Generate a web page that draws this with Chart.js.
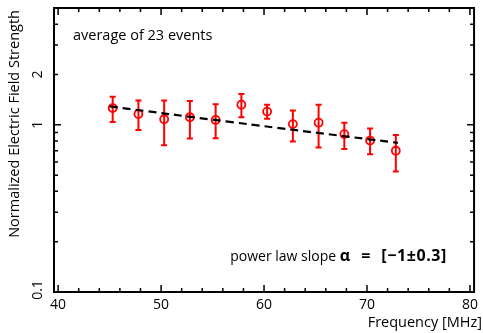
<!DOCTYPE html>
<html>
<head>
<meta charset="utf-8">
<script src="https://cdn.jsdelivr.net/npm/chart.js@4.4.1/dist/chart.umd.min.js"></script>
<style>
  html, body { margin: 0; padding: 0; background: #fff; }
  #wrap { width: 483px; height: 333px; }
</style>
</head>
<body>
<div id="wrap"><canvas id="chart"></canvas></div>
<script>
// --- Data ---
const freqMHz = [45.3, 47.8, 50.3, 52.8, 55.3, 57.8, 60.3, 62.8, 65.3, 67.8, 70.3, 72.8];
const fieldStrength = [1.26, 1.16, 1.08, 1.11, 1.07, 1.32, 1.20, 1.01, 1.03, 0.88, 0.805, 0.70];
const errUpper = [1.47, 1.40, 1.40, 1.39, 1.33, 1.53, 1.32, 1.22, 1.32, 1.03, 0.95, 0.87];
const errLower = [1.04, 0.93, 0.756, 0.828, 0.832, 1.11, 1.086, 0.795, 0.731, 0.718, 0.667, 0.525];

// power law fit (dashed line)
const fitFreq = [45.0, 56.5, 73.0];
const fitValue = [1.29, 1.045, 0.78];

// axis ticks
const xTickLabels = [40, 50, 60, 70, 80];
const xMinorTicks = [42, 44, 46, 48, 52, 54, 56, 58, 62, 64, 66, 68, 72, 74, 76, 78];
const yTickLabels = [0.1, 1, 2];
const yMajorTicks = [0.1, 1];
const yMinorTicks = [0.2, 0.3, 0.4, 0.5, 0.6, 0.7, 0.8, 0.9, 2, 3, 4];

const FONT = '"Open Sans", "DejaVu Sans", sans-serif';
const RED = '#ff0000';

// error bars under the markers
const errorBarPlugin = {
    id: 'errorBars',
    beforeDatasetsDraw(chart) {
        const { ctx, scales: { x, y } } = chart;
        ctx.save();
        ctx.strokeStyle = RED;
        ctx.lineWidth = 2;
        freqMHz.forEach((f, i) => {
            const px = x.getPixelForValue(f);
            const top = y.getPixelForValue(errUpper[i]);
            const bot = y.getPixelForValue(errLower[i]);
            ctx.beginPath();
            ctx.moveTo(px, top); ctx.lineTo(px, bot);
            ctx.moveTo(px - 3, top); ctx.lineTo(px + 3, top);
            ctx.moveTo(px - 3, bot); ctx.lineTo(px + 3, bot);
            ctx.stroke();
        });
        ctx.restore();
    }
};

// frame, inward ticks, rotated y labels, titles, text notes
const framePlugin = {
    id: 'frame',
    afterDraw(chart) {
        const { ctx, chartArea: a, scales: { x, y } } = chart;
        ctx.save();
        ctx.strokeStyle = '#000';
        ctx.lineWidth = 2;
        ctx.strokeRect(a.left, a.top, a.right - a.left, a.bottom - a.top);

        ctx.lineWidth = 1.5;
        ctx.beginPath();
        const xt = (v, len) => {
            const px = x.getPixelForValue(v);
            ctx.moveTo(px, a.bottom); ctx.lineTo(px, a.bottom - len);
            ctx.moveTo(px, a.top); ctx.lineTo(px, a.top + len);
        };
        const yt = (v, len) => {
            const py = y.getPixelForValue(v);
            ctx.moveTo(a.left, py); ctx.lineTo(a.left + len, py);
            ctx.moveTo(a.right, py); ctx.lineTo(a.right - len, py);
        };
        xTickLabels.forEach(v => xt(v, 7));
        xMinorTicks.forEach(v => xt(v, 4));
        yMajorTicks.forEach(v => yt(v, 7));
        yMinorTicks.forEach(v => yt(v, 4));
        ctx.stroke();

        ctx.fillStyle = '#000';

        // y tick labels, rotated
        ctx.font = '14px ' + FONT;
        ctx.textAlign = 'center';
        ctx.textBaseline = 'middle';
        yTickLabels.forEach(v => {
            const py = y.getPixelForValue(v);
            ctx.save();
            ctx.translate(38, v === 0.1 ? py - 2 : py);
            ctx.rotate(-Math.PI / 2);
            ctx.fillText(String(v), 0, 0);
            ctx.restore();
        });

        // axis titles
        ctx.font = '14.5px ' + FONT;
        ctx.textAlign = 'right';
        ctx.fillText('Frequency [MHz]', 482, 323);
        ctx.save();
        ctx.translate(15, 10);
        ctx.rotate(-Math.PI / 2);
        ctx.fillText('Normalized Electric Field Strength', 0, 0);
        ctx.restore();

        // notes
        ctx.textAlign = 'left';
        ctx.textBaseline = 'alphabetic';
        ctx.font = '14.5px ' + FONT;
        ctx.fillText('average of 23 events', 73, 40);

        // "power law slope α = [−1±0.3]" laid out between x=224 and x=447
        const normal = 'power law slope ';
        const bracket = '[\u22121\u00B10.3]';
        ctx.font = '14px ' + FONT;
        const wN = ctx.measureText(normal).width;
        ctx.font = 'bold 16px ' + FONT;
        ctx.letterSpacing = '0.6px';
        const wB = ctx.measureText(bracket).width;
        ctx.letterSpacing = '0px';
        const wA = ctx.measureText('\u03B1').width;
        const wE = ctx.measureText('=').width;
        const gap = Math.min(11, Math.max(4, (223 - wN - wA - wE - wB) / 2));
        let cx = 447 - wB;
        ctx.letterSpacing = '0.6px';
        ctx.fillText(bracket, cx, 261);
        ctx.letterSpacing = '0px';
        cx -= gap + wE;
        ctx.fillText('=', cx, 261);
        cx -= gap + wA;
        ctx.fillText('\u03B1', cx, 261);
        ctx.font = '14px ' + FONT;
        ctx.fillText(normal, cx - wN, 261);
        ctx.restore();
    }
};

const ctx = document.getElementById('chart').getContext('2d');
new Chart(ctx, {
    data: {
        datasets: [{
            type: 'line',
            label: 'power law fit',
            data: fitFreq.map((f, i) => ({ x: f, y: fitValue[i] })),
            borderColor: '#000',
            borderWidth: 2.2,
            borderDash: [8, 5],
            pointRadius: 0,
            fill: false,
            tension: 0.4
        }, {
            type: 'scatter',
            label: 'average of 23 events',
            data: freqMHz.map((f, i) => ({ x: f, y: fieldStrength[i] })),
            borderColor: RED,
            backgroundColor: 'rgba(0,0,0,0)',
            borderWidth: 1.8,
            pointRadius: 4,
            pointStyle: 'circle'
        }]
    },
    options: {
        responsive: true,
        maintainAspectRatio: false,
        animation: false,
        events: [],
        layout: { padding: { top: 8, right: 2, left: 0, bottom: 0 } },
        plugins: {
            legend: { display: false },
            tooltip: { enabled: false }
        },
        scales: {
            x: {
                type: 'linear',
                min: 39.6,
                max: 80.4,
                afterBuildTicks: s => { s.ticks = xTickLabels.map(v => ({ value: v })); },
                afterFit: s => { s.height = 41; },
                grid: { display: false, drawTicks: false },
                border: { display: false },
                ticks: {
                    color: '#000',
                    font: { family: FONT, size: 14 },
                    padding: 5,
                    maxRotation: 0,
                    callback: v => String(v)
                }
            },
            y: {
                type: 'logarithmic',
                min: 0.1,
                max: 5,
                afterBuildTicks: s => { s.ticks = yTickLabels.map(v => ({ value: v })); },
                afterFit: s => { s.width = 54; },
                grid: { display: false, drawTicks: false },
                border: { display: false },
                ticks: { display: false }
            }
        }
    },
    plugins: [errorBarPlugin, framePlugin]
});
</script>
</body>
</html>
